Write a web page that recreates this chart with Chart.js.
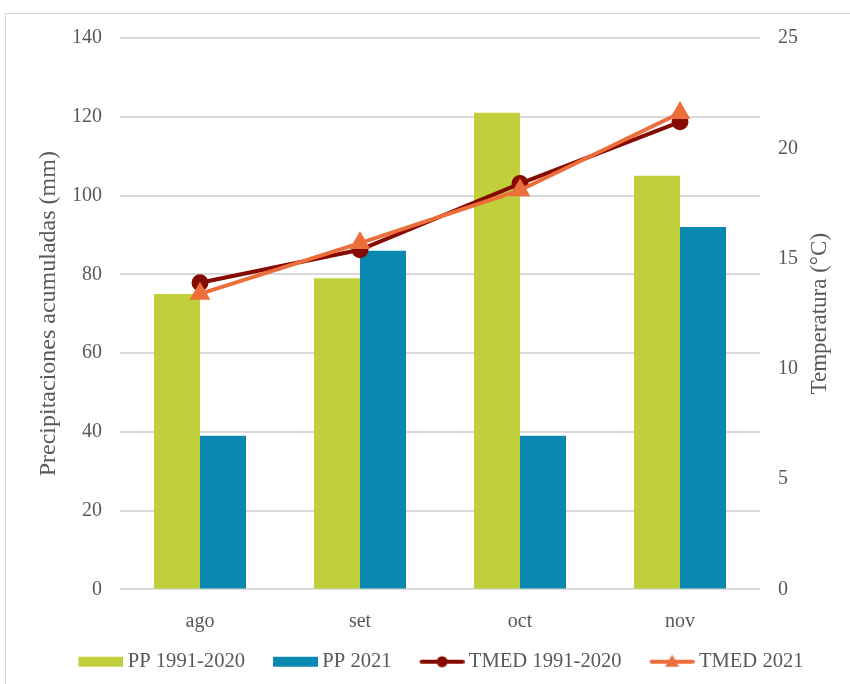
<!DOCTYPE html>
<html>
<head>
<meta charset="utf-8">
<script src="https://cdn.jsdelivr.net/npm/chart.js@4/dist/chart.umd.min.js"></script>
<style>
  html, body { margin: 0; padding: 0; background: #ffffff; }
  #wrap { position: relative; width: 850px; height: 684px; overflow: hidden; }
  #frame { position: absolute; left: 5px; top: 13px; width: 900px; height: 700px; border: 1px solid #d9d9d9; box-sizing: border-box; pointer-events: none; }
  canvas { position: absolute; left: 0; top: 0; }
</style>
</head>
<body>
<div id="wrap">
  <div id="frame"></div>
  <canvas id="c" width="850" height="684"></canvas>
</div>
<script>
// ---- data ----
const categories = ['ago', 'set', 'oct', 'nov'];
const pp19912020 = [75, 79, 121, 105];
const pp2021 = [39, 86, 39, 92];
const tmed19912020 = [13.9, 15.4, 18.4, 21.2];
const tmed2021 = [13.4, 15.7, 18.1, 21.6];
const seriesNames = ['PP 1991-2020', 'PP 2021', 'TMED 1991-2020', 'TMED 2021'];
const leftTitle = 'Precipitaciones acumuladas (mm)';
const rightTitle = 'Temperatura (°C)';

const GREEN = '#c1d03a';
const BLUE = '#0b88b1';
const DARKRED = '#850a00';
const ORANGE = '#ec6e3b';
const TEXT = '#595959';
const FONT = '"Liberation Serif", "Times New Roman", serif';

Chart.defaults.font.family = FONT;
Chart.defaults.color = TEXT;

function makeIcon(kind, color) {
  const cv = document.createElement('canvas');
  cv.width = 72; cv.height = 16;
  const g = cv.getContext('2d');
  const x0 = 27, x1 = 72, cy = 8;
  if (kind === 'bar') {
    g.fillStyle = color;
    g.fillRect(x0, cy - 5, x1 - x0, 10);
  } else {
    g.strokeStyle = color; g.lineWidth = 4; g.lineCap = 'round';
    g.beginPath(); g.moveTo(x0 + 2, cy); g.lineTo(x1 - 2, cy); g.stroke();
    g.fillStyle = color;
    const mx = (x0 + x1) / 2;
    if (kind === 'circle') {
      g.beginPath(); g.arc(mx, cy, 5.5, 0, Math.PI * 2); g.fill();
    } else {
      g.beginPath(); g.moveTo(mx, cy - 7); g.lineTo(mx + 7, cy + 5); g.lineTo(mx - 7, cy + 5); g.closePath(); g.fill();
    }
  }
  return cv;
}
const icons = [makeIcon('bar', GREEN), makeIcon('bar', BLUE), makeIcon('circle', DARKRED), makeIcon('tri', ORANGE)];

// draws the right axis title reading bottom-to-top (like Excel)
const rightTitlePlugin = {
  id: 'rightTitle',
  afterDraw(chart) {
    const s = chart.scales.y1;
    const ctx = chart.ctx;
    ctx.save();
    ctx.font = '23px ' + FONT;
    ctx.fillStyle = TEXT;
    ctx.textAlign = 'center';
    ctx.textBaseline = 'middle';
    ctx.translate(s.right - 30, (chart.chartArea.top + chart.chartArea.bottom) / 2);
    ctx.rotate(-Math.PI / 2);
    ctx.fillText(rightTitle, 0, 0);
    ctx.restore();
  }
};

new Chart(document.getElementById('c'), {
  data: {
    labels: categories,
    datasets: [
      { type: 'bar', label: seriesNames[0], data: pp19912020, backgroundColor: GREEN, yAxisID: 'y', order: 3,
        barPercentage: 1.0, categoryPercentage: 0.575 },
      { type: 'bar', label: seriesNames[1], data: pp2021, backgroundColor: BLUE, yAxisID: 'y', order: 3,
        barPercentage: 1.0, categoryPercentage: 0.575 },
      { type: 'line', label: seriesNames[2], data: tmed19912020, borderColor: DARKRED, backgroundColor: DARKRED,
        borderWidth: 4, pointStyle: 'circle', pointRadius: 6.5, pointBackgroundColor: DARKRED, pointBorderColor: DARKRED,
        yAxisID: 'y1', order: 2, tension: 0 },
      { type: 'line', label: seriesNames[3], data: tmed2021, borderColor: ORANGE, backgroundColor: ORANGE,
        borderWidth: 4, pointStyle: 'triangle', pointRadius: 8, pointBackgroundColor: ORANGE, pointBorderColor: ORANGE,
        yAxisID: 'y1', order: 1, tension: 0 }
    ]
  },
  plugins: [rightTitlePlugin],
  options: {
    responsive: false,
    animation: false,
    layout: { padding: { top: 38, bottom: 2, left: 11, right: 0 } },
    plugins: {
      tooltip: { enabled: false },
      legend: {
        position: 'bottom',
        align: 'center',
        labels: {
          usePointStyle: true,
          pointStyleWidth: 60,
          padding: 7,
          color: TEXT,
          font: { size: 20.6, family: FONT },
          sort: (a, b) => a.datasetIndex - b.datasetIndex,
          generateLabels: (chart) => {
            const items = Chart.defaults.plugins.legend.labels.generateLabels(chart);
            items.forEach((it) => { it.pointStyle = icons[it.datasetIndex]; it.fontColor = TEXT; });
            return items;
          }
        }
      }
    },
    scales: {
      x: {
        grid: { display: false },
        border: { display: false },
        ticks: { padding: 12, color: TEXT, font: { size: 20, family: FONT } },
        afterFit: (s) => { s.height = 55; }
      },
      y: {
        position: 'left',
        min: 0, max: 140,
        ticks: { stepSize: 20, padding: 18, color: TEXT, font: { size: 20, family: FONT } },
        grid: { color: '#d9d9d9', lineWidth: 2, drawTicks: false },
        border: { display: false },
        title: { display: true, text: leftTitle, color: TEXT, font: { size: 24, family: FONT }, padding: { top: 23, bottom: 0 } },
        afterFit: (s) => { s.width = 109; }
      },
      y1: {
        position: 'right',
        min: 0, max: 25,
        ticks: { stepSize: 5, padding: 18, color: TEXT, font: { size: 20, family: FONT } },
        grid: { drawOnChartArea: false, drawTicks: false, display: false },
        border: { display: false },
        title: { display: false },
        afterFit: (s) => { s.width = 90; }
      }
    }
  }
});
</script>
</body>
</html>
